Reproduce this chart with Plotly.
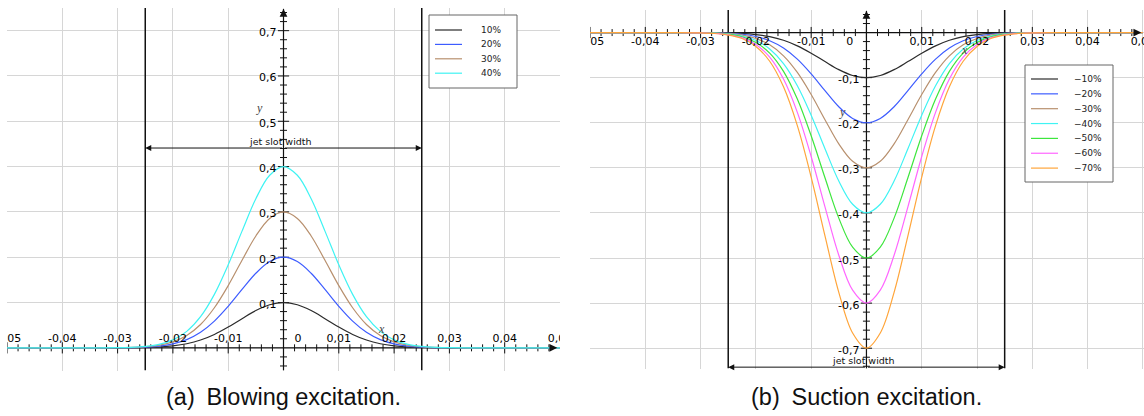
import numpy as np
import plotly.graph_objects as go

# Lateral position across the jet slot [m]
x_pos = [-0.05, -0.04, -0.035, -0.03, -0.0275, -0.025, -0.0225, -0.02, -0.0175, -0.015,
         -0.0125, -0.01, -0.0075, -0.005, -0.0025, 0.0, 0.0025, 0.005, 0.0075, 0.01,
         0.0125, 0.015, 0.0175, 0.02, 0.0225, 0.025, 0.0275, 0.03, 0.035, 0.04, 0.05]
# Normalised excitation velocity profile (peak = 1)
profile = [0.0, 0.0, 0.0002, 0.001, 0.003, 0.008, 0.019, 0.044, 0.091, 0.172,
           0.295, 0.458, 0.644, 0.823, 0.952, 1.0, 0.952, 0.823, 0.644, 0.458,
           0.295, 0.172, 0.091, 0.044, 0.019, 0.008, 0.003, 0.001, 0.0002, 0.0, 0.0]

blow_names = ["10%", "20%", "30%", "40%"]
blow_amp = [0.1, 0.2, 0.3, 0.4]
suck_names = ["\u221210%", "\u221220%", "\u221230%", "\u221240%", "\u221250%", "\u221260%", "\u221270%"]
suck_amp = [-0.1, -0.2, -0.3, -0.4, -0.5, -0.6, -0.7]

colors = ["#2b2b2b", "#3d5cff", "#b8906e", "#3ff3f3", "#3de63d", "#ff66ff", "#ffa53a"]

slot_half = 0.025
x_ticks = [-0.05, -0.04, -0.03, -0.02, -0.01, 0.0, 0.01, 0.02, 0.03, 0.04, 0.05]
blow_y_ticks = [0.1, 0.2, 0.3, 0.4, 0.5, 0.6, 0.7]
suck_y_ticks = [-0.1, -0.2, -0.3, -0.4, -0.5, -0.6, -0.7]

W, H = 1144, 416
TICK_FONT = dict(family="DejaVu Sans", size=11, color="#000")
SMALL_FONT = dict(family="DejaVu Sans", size=9.5, color="#111")


def fmt(v):
    if abs(v) < 1e-12:
        return "0"
    return f"{v:.2f}".rstrip("0").replace(".", ",")


fig = go.Figure()
annotations = []
shapes = []


def panel(xa, ya, xr, yr, x_label_dy, zero_dx, y_ticks, amps, names, arrow_y, legend_box, legend_rows):
    xref, yref = xa, ya
    # slot boundaries
    for sx in (-slot_half, slot_half):
        fig.add_trace(go.Scatter(x=[sx, sx], y=[yr[0], yr[1]], mode="lines",
                                 line=dict(color="#111", width=1.5), hoverinfo="skip",
                                 showlegend=False, xaxis=xa, yaxis=ya))
    # coordinate axes through the origin
    x_tip = xr[1] - 0.0005 if xr[1] > 0.0499 else xr[1]
    y_tip = yr[1] - 0.002
    fig.add_trace(go.Scatter(x=[xr[0], x_tip], y=[0, 0], mode="lines",
                             line=dict(color="#111", width=1.2), hoverinfo="skip",
                             showlegend=False, xaxis=xa, yaxis=ya, cliponaxis=False))
    fig.add_trace(go.Scatter(x=[0, 0], y=[yr[0], y_tip], mode="lines",
                             line=dict(color="#111", width=1.2), hoverinfo="skip",
                             showlegend=False, xaxis=xa, yaxis=ya, cliponaxis=False))
    # tick marks crossing the axes
    xt = np.round(np.arange(-0.05, xr[1] - 0.001, 0.002), 4)
    major_x = np.isclose(np.round(xt / 0.01), xt / 0.01)
    for sel, size in ((~major_x, 5), (major_x, 8)):
        fig.add_trace(go.Scatter(x=xt[sel], y=np.zeros(sel.sum()), mode="markers",
                                 marker=dict(symbol="line-ns-open", size=size, color="#111",
                                             line=dict(width=1, color="#111")),
                                 hoverinfo="skip", showlegend=False, xaxis=xa, yaxis=ya))
    yt = np.round(np.arange(np.ceil(yr[0] / 0.02) * 0.02, yr[1] - 0.005, 0.02), 4)
    yt = yt[np.abs(yt) > 1e-9]
    major_y = np.isclose(np.round(yt / 0.1), yt / 0.1)
    for sel, size in ((~major_y, 5), (major_y, 8)):
        fig.add_trace(go.Scatter(x=np.zeros(sel.sum()), y=yt[sel], mode="markers",
                                 marker=dict(symbol="line-ew-open", size=size, color="#111",
                                             line=dict(width=1, color="#111")),
                                 hoverinfo="skip", showlegend=False, xaxis=xa, yaxis=ya))
    # curves
    prof = np.array(profile)
    for amp, name, col in zip(amps, names, colors):
        fig.add_trace(go.Scatter(x=x_pos, y=amp * prof, mode="lines", name=name,
                                 line=dict(color=col, width=1.2, shape="spline"),
                                 showlegend=False, xaxis=xa, yaxis=ya))
    # x tick labels (clipped at the plot edges)
    lx = [zero_dx if abs(v) < 1e-12 else v for v in x_ticks]
    fig.add_trace(go.Scatter(x=lx, y=[x_label_dy] * len(lx), mode="text",
                             text=[fmt(v) for v in x_ticks], textfont=TICK_FONT,
                             textposition="middle center", hoverinfo="skip",
                             showlegend=False, xaxis=xa, yaxis=ya, cliponaxis=True))
    # y tick labels
    for v in y_ticks:
        annotations.append(dict(x=0, y=v, xref=xref, yref=yref, text=fmt(v), showarrow=False,
                                xanchor="right", yanchor="middle", xshift=-5, yshift=-2,
                                font=TICK_FONT))
    # arrow heads of the axes
    annotations.append(dict(x=x_tip, y=0, xref=xref, yref=yref, ax=-6, ay=0, text="",
                            showarrow=True, arrowhead=2, arrowsize=1.3, arrowwidth=1.2,
                            arrowcolor="#111", standoff=0))
    annotations.append(dict(x=0, y=y_tip, xref=xref, yref=yref, ax=0, ay=6, text="",
                            showarrow=True, arrowhead=2, arrowsize=1.3, arrowwidth=1.2,
                            arrowcolor="#111", standoff=0))
    # slot width dimension arrow
    for end in (-slot_half, slot_half):
        annotations.append(dict(x=end, y=arrow_y, xref=xref, yref=yref, ax=0, ay=arrow_y,
                                axref=xref, ayref=yref, text="", showarrow=True,
                                arrowhead=2, arrowsize=1.2, arrowwidth=1, arrowcolor="#111",
                                standoff=0))
    annotations.append(dict(x=0, y=arrow_y, xref=xref, yref=yref, text="jet slot width",
                            showarrow=False, xanchor="center", yanchor="middle",
                            xshift=-3, yshift=7, font=SMALL_FONT))
    # legend box
    bx0, by0, bx1, by1 = legend_box
    shapes.append(dict(type="rect", xref="paper", yref="paper",
                       x0=bx0 / W, x1=bx1 / W, y0=1 - by1 / H, y1=1 - by0 / H,
                       fillcolor="white", line=dict(color="#666", width=1)))
    lx0, lx1, tx, ry0, rdy = legend_rows
    for i, (name, col) in enumerate(zip(names, colors)):
        yy = 1 - (ry0 + i * rdy) / H
        shapes.append(dict(type="line", xref="paper", yref="paper", x0=lx0 / W, x1=lx1 / W,
                           y0=yy, y1=yy, line=dict(color=col, width=1.2)))
        annotations.append(dict(x=tx / W, y=yy, xref="paper", yref="paper", text=name,
                                showarrow=False, xanchor="left", yanchor="middle",
                                font=dict(family="DejaVu Sans", size=9, color="#222")))


panel("x", "y", [-0.05, 0.05], [-0.05, 0.75], 0.018, 0.0026, blow_y_ticks, blow_amp,
      blow_names, 0.441, (429, 15, 517, 88), (435, 462, 479, 30, 14.4))
panel("x2", "y2", [-0.05, 0.0502], [-0.745, 0.05], -0.021, -0.003, suck_y_ticks, suck_amp,
      suck_names, -0.742, (1025, 65, 1113, 182), (1031, 1058, 1072, 79, 14.85))

# italic axis names
AX_FONT = dict(family="Liberation Serif", size=12, color="#444")
annotations += [
    dict(x=-0.0043, y=0.53, xref="x", yref="y", text="<i>y</i>", showarrow=False, font=AX_FONT),
    dict(x=0.0178, y=0.042, xref="x", yref="y", text="<i>x</i>", showarrow=False, font=AX_FONT),
    dict(x=-0.0044, y=-0.177, xref="x2", yref="y2", text="<i>y</i>", showarrow=False, font=AX_FONT),
    dict(x=0.0178, y=-0.038, xref="x2", yref="y2", text="<i>x</i>", showarrow=False, font=AX_FONT),
]

# sub-captions
CAP_FONT = dict(family="Liberation Sans", size=23.5, color="#111")
annotations += [
    dict(x=283.5 / W, y=1 - 397 / H, xref="paper", yref="paper",
         text="(a)\u2002Blowing excitation.", showarrow=False, font=CAP_FONT,
         xanchor="center", yanchor="middle"),
    dict(x=866.5 / W, y=1 - 397 / H, xref="paper", yref="paper",
         text="(b)\u2002Suction excitation.", showarrow=False, font=CAP_FONT,
         xanchor="center", yanchor="middle"),
]

grid = dict(showgrid=True, gridcolor="#d6d6d6", gridwidth=1, zeroline=False,
            showticklabels=False, ticks="", showline=False, tick0=0, fixedrange=True)

fig.update_layout(
    width=W, height=H,
    margin=dict(l=0, r=0, t=0, b=0),
    paper_bgcolor="white", plot_bgcolor="white",
    showlegend=False,
    xaxis=dict(grid, domain=[7 / W, 560 / W], range=[-0.05, 0.05], dtick=0.01, anchor="y"),
    yaxis=dict(grid, domain=[1 - 370.5 / H, 1 - 8 / H], range=[-0.05, 0.75], dtick=0.1, anchor="x"),
    xaxis2=dict(grid, domain=[590 / W, 1.0], range=[-0.05, 0.0502], dtick=0.01, anchor="y2"),
    yaxis2=dict(grid, domain=[1 - 368.5 / H, 1 - 10 / H], range=[-0.745, 0.05], dtick=0.1, anchor="x2"),
    annotations=annotations,
    shapes=shapes,
)

fig.write_html("out.html")
